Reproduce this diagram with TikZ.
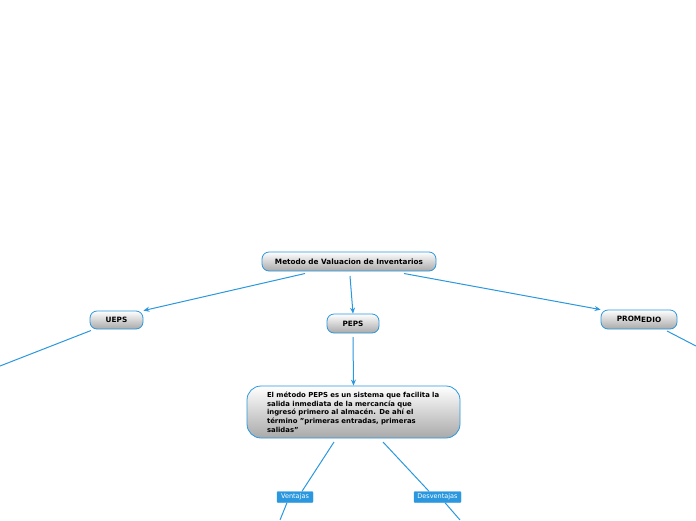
\documentclass[tikz,border=0pt]{standalone}
\usepackage{fontspec}
\setmainfont{DejaVu Sans}
\usetikzlibrary{arrows.meta}
\definecolor{lnblue}{HTML}{2A97DE}
\definecolor{boxgrayb}{HTML}{A9A9A9}
\tikzset{
  topic/.style={draw=lnblue, line width=0.8pt, rounded corners=7pt, top color=white, bottom color=boxgrayb, font=\fontsize{7.3}{8}\selectfont\bfseries, inner sep=0pt, align=center},
  tag/.style={fill=lnblue, draw=lnblue, rounded corners=1pt, text=white, font=\fontsize{6.5}{8}\selectfont, inner sep=0pt, minimum height=11pt},
  conn/.style={draw=lnblue, line width=1pt},
  arr/.style={conn, -{Stealth[length=6pt,width=5pt]}}
}
\begin{document}
\begin{tikzpicture}[x=1pt,y=-1pt]
\useasboundingbox (0,0) rectangle (696,520);
\node[topic, minimum width=174pt, minimum height=19pt] (root) at (349,261.5) {Metodo de Valuacion de Inventarios};
\node[topic, minimum width=53pt, minimum height=18pt] (ueps) at (116.5,320) {UEPS};
\node[topic, minimum width=52pt, minimum height=19pt] (peps) at (353,323.5) {PEPS};
\node[topic, minimum width=76pt, minimum height=19pt] (prom) at (639,319.5) {PROM\raisebox{-1.2pt}{EDIO}};
\node[topic, rounded corners=14pt, text width=173pt, inner xsep=20pt, inner ysep=4pt, minimum height=52pt, align=left, font=\fontsize{6.9}{8.7}\selectfont\bfseries] (desc) at (353.5,412) {El método PEPS es un sistema que facilita la\\salida inmediata de la mercancía que\\ingresó primero al almacén. De ahí el\\término "primeras entradas, primeras\\salidas"};
\node[tag, minimum width=36pt] (vent) at (295,497) {Ventajas};
\node[tag, minimum width=47pt] (desv) at (437.5,497) {Desventajas};
\coordinate (r1) at (305,273.5);
\coordinate (r2) at (350,276);
\coordinate (r3) at (404,273.5);
\coordinate (u1) at (91,330.5);
\coordinate (uend) at (0,366);
\coordinate (p1) at (667,331);
\coordinate (pend) at (696,346);
\coordinate (pp1) at (353,337);
\coordinate (d1) at (334,442);
\coordinate (d2) at (383,442);
\coordinate (vend) at (280,520);
\coordinate (dend) at (460,520);
\draw[arr] (r1) -- (ueps.north east);
\draw[arr] (r2) -- (peps.north);
\draw[arr] (r3) -- (prom.north west);
\draw[arr] (pp1) -- (desc.north);
\draw[conn] (u1) -- (uend);
\draw[conn] (p1) -- (pend);
\draw[conn] (d1) -- (vent.north -| 302,0);
\draw[conn] (vent.south -| 287,0) -- (vend);
\draw[conn] (d2) -- (desv.north -| 429,0);
\draw[conn] (desv.south -| 445,0) -- (dend);
\end{tikzpicture}
\end{document}
